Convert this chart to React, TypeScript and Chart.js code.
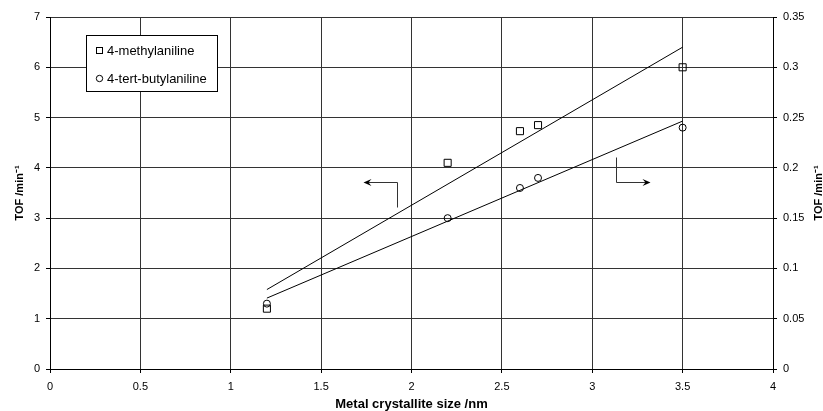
import React, { useEffect, useRef } from "react";
import { Chart, registerables } from "chart.js";

Chart.register(...registerables);

// ---- data ----
const crystalliteSize = [1.2, 2.2, 2.6, 2.7, 3.5];
const tofMethylaniline = [1.2, 4.1, 4.73, 4.85, 6.0];
const tofButylaniline = [0.065, 0.15, 0.18, 0.19, 0.24];

const trendX = [1.2, 3.5];
const trendMethylaniline = [1.58, 6.4];
const trendButylaniline = [0.0705, 0.2465];

const seriesNames = ["4-methylaniline", "4-tert-butylaniline"];

const xTickValues = [0, 0.5, 1, 1.5, 2, 2.5, 3, 3.5, 4];
const leftTickValues = [0, 1, 2, 3, 4, 5, 6, 7];
const rightTickValues = [0, 0.05, 0.1, 0.15, 0.2, 0.25, 0.3, 0.35];

const xTitle = "Metal crystallite size /nm";
const yTitle = "TOF /min\u207B\u00B9";

// arrow annotations, in data units (x axis, left y axis)
const arrowLeft = { cornerX: 1.92, levelY: 3.72, stubY: 3.22, tipX: 1.73 };
const arrowRight = { cornerX: 3.13, levelY: 3.72, stubY: 4.22, tipX: 3.32 };

const FONT = "'Liberation Sans', Arial, sans-serif";

const decorPlugin = {
  id: "decor",
  afterDatasetsDraw(chart: any) {
    const { ctx, chartArea, scales } = chart;
    const xs = scales.x;
    const ys = scales.y;
    ctx.save();

    const drawArrow = (a: any) => {
      const cx = Math.round(xs.getPixelForValue(a.cornerX)) + 0.5;
      const ly = Math.round(ys.getPixelForValue(a.levelY)) + 0.5;
      const sy = Math.round(ys.getPixelForValue(a.stubY)) + 0.5;
      const tx = Math.round(xs.getPixelForValue(a.tipX)) + 0.5;
      const dir = tx < cx ? -1 : 1;
      ctx.strokeStyle = "#333";
      ctx.lineWidth = 1;
      ctx.beginPath();
      ctx.moveTo(cx, sy);
      ctx.lineTo(cx, ly);
      ctx.lineTo(tx - dir * 3, ly);
      ctx.stroke();
      ctx.fillStyle = "#000";
      ctx.beginPath();
      ctx.moveTo(tx, ly);
      ctx.lineTo(tx - dir * 8, ly - 3.5);
      ctx.lineTo(tx - dir * 5, ly);
      ctx.lineTo(tx - dir * 8, ly + 3.5);
      ctx.closePath();
      ctx.fill();
    };
    drawArrow(arrowLeft);
    drawArrow(arrowRight);

    // legend box
    const lx = chartArea.left + 36;
    const ly = chartArea.top + 18;
    const lw = 131;
    const lh = 56;
    ctx.fillStyle = "#fff";
    ctx.fillRect(lx, ly, lw, lh);
    ctx.strokeStyle = "#000";
    ctx.lineWidth = 1;
    ctx.strokeRect(lx + 0.5, ly + 0.5, lw, lh);

    ctx.font = `13px ${FONT}`;
    ctx.textBaseline = "middle";
    ctx.textAlign = "left";
    ctx.fillStyle = "#000";
    // square marker
    ctx.strokeStyle = "#000";
    ctx.strokeRect(lx + 10.5, ly + 12.5, 6, 6);
    ctx.fillText(seriesNames[0], lx + 21, ly + 16);
    // circle marker
    ctx.beginPath();
    ctx.arc(lx + 13.5, ly + 43.5, 3.2, 0, Math.PI * 2);
    ctx.stroke();
    ctx.fillText(seriesNames[1], lx + 21, ly + 44);

    ctx.restore();
  },
  afterDraw(chart: any) {
    const { ctx, chartArea, width } = chart;
    ctx.save();
    ctx.translate(width - 4.5, (chartArea.top + chartArea.bottom) / 2);
    ctx.rotate(-Math.PI / 2);
    ctx.font = `bold 11px ${FONT}`;
    ctx.fillStyle = "#000";
    ctx.textAlign = "center";
    ctx.textBaseline = "middle";
    ctx.fillText(yTitle, 0, 0);
    ctx.restore();
  },
};

export default function App() {
  const canvasRef = useRef<HTMLCanvasElement | null>(null);

  useEffect(() => {
    const canvas = canvasRef.current;
    if (!canvas) return;

    const tickFont = { family: FONT, size: 11 };

    const chart = new Chart(canvas, {
      type: "scatter",
      data: {
        datasets: [
          {
            label: seriesNames[0],
            data: crystalliteSize.map((x, i) => ({ x, y: tofMethylaniline[i] })),
            yAxisID: "y",
            pointStyle: "rect",
            pointRadius: 5,
            borderColor: "#000",
            backgroundColor: "rgba(0,0,0,0)",
            borderWidth: 1,
            showLine: false,
          },
          {
            label: seriesNames[1],
            data: crystalliteSize.map((x, i) => ({ x, y: tofButylaniline[i] })),
            yAxisID: "y1",
            pointStyle: "circle",
            pointRadius: 3.5,
            borderColor: "#000",
            backgroundColor: "rgba(0,0,0,0)",
            borderWidth: 1,
            showLine: false,
          },
          {
            label: "trend " + seriesNames[0],
            type: "line",
            data: trendX.map((x, i) => ({ x, y: trendMethylaniline[i] })),
            yAxisID: "y",
            pointRadius: 0,
            borderColor: "#000",
            borderWidth: 1,
            fill: false,
          } as any,
          {
            label: "trend " + seriesNames[1],
            type: "line",
            data: trendX.map((x, i) => ({ x, y: trendButylaniline[i] })),
            yAxisID: "y1",
            pointRadius: 0,
            borderColor: "#000",
            borderWidth: 1,
            fill: false,
          } as any,
        ],
      },
      options: {
        responsive: false,
        animation: false,
        devicePixelRatio: 1,
        layout: { padding: { top: 17, left: 0, right: 0, bottom: 0 } },
        plugins: {
          legend: { display: false },
          tooltip: { enabled: false },
        },
        scales: {
          x: {
            type: "linear",
            position: "bottom",
            min: 0,
            max: 4,
            afterBuildTicks: (s: any) => {
              s.ticks = xTickValues.map((v) => ({ value: v }));
            },
            ticks: {
              callback: (v: any) => String(v),
              color: "#000",
              font: tickFont,
              padding: 7,
              maxRotation: 0,
              autoSkip: false,
            },
            grid: { color: "#333", tickLength: 4, tickColor: "#000" },
            border: { color: "#000" },
            title: {
              display: true,
              text: xTitle,
              color: "#000",
              font: { family: FONT, size: 13, weight: "bold", lineHeight: 1 },
              padding: 0,
            },
            afterFit: (s: any) => {
              s.height = 42;
            },
          },
          y: {
            type: "linear",
            position: "left",
            min: 0,
            max: 7,
            afterBuildTicks: (s: any) => {
              s.ticks = leftTickValues.map((v) => ({ value: v }));
            },
            ticks: {
              callback: (v: any) => String(v),
              color: "#000",
              font: tickFont,
              padding: 6,
            },
            grid: { color: "#333", tickLength: 4, tickColor: "#000" },
            border: { color: "#000" },
            title: {
              display: true,
              text: yTitle,
              color: "#000",
              font: { family: FONT, size: 11, weight: "bold", lineHeight: 1.2 },
              padding: { top: 13, bottom: 0 },
            },
            afterFit: (s: any) => {
              s.width = 50;
            },
          },
          y1: {
            type: "linear",
            position: "right",
            min: 0,
            max: 0.35,
            afterBuildTicks: (s: any) => {
              s.ticks = rightTickValues.map((v) => ({ value: v }));
            },
            ticks: {
              callback: (v: any) => String(v),
              color: "#000",
              font: tickFont,
              padding: 6,
            },
            grid: { drawOnChartArea: false, tickLength: 4, tickColor: "#000" },
            border: { color: "#000" },
            afterFit: (s: any) => {
              s.width = 50;
            },
          },
        },
      } as any,
      plugins: [decorPlugin],
    });

    return () => chart.destroy();
  }, []);

  return (
    <div style={{ position: "fixed", left: 0, top: 0, width: 823, height: 411, background: "#fff" }}>
      <canvas ref={canvasRef} width={823} height={411} style={{ width: 823, height: 411, display: "block" }} />
    </div>
  );
}
